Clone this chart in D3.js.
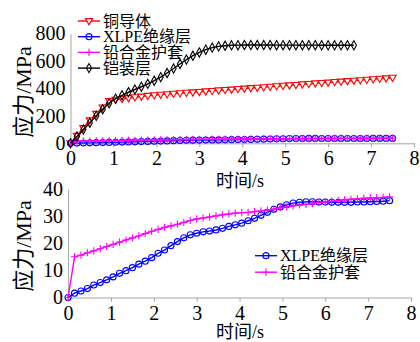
<!DOCTYPE html>
<html>
<head>
<meta charset="utf-8">
<script src="https://cdn.jsdelivr.net/npm/d3@7"></script>
<style>
  body { margin: 0; background: #fff; }
  svg text { font-family: "Liberation Serif", "Times New Roman", "Noto Sans CJK SC", serif; fill: #000; }
</style>
</head>
<body>
<div id="chart"></div>
<script>
// time samples (s)
const times = [0, 0.15, 0.3, 0.45, 0.6, 0.75, 0.9, 1.05, 1.2, 1.35, 1.5, 1.65, 1.8, 1.95, 2.1, 2.25, 2.4, 2.55, 2.7, 2.85,
  3.0, 3.15, 3.3, 3.45, 3.6, 3.75, 3.9, 4.05, 4.2, 4.35, 4.5, 4.65, 4.8, 4.95, 5.1, 5.25, 5.4, 5.55, 5.7, 5.85,
  6.0, 6.15, 6.3, 6.45, 6.6, 6.75, 6.9, 7.05, 7.2, 7.35, 7.5];

// stress (MPa)
const copperStress = [0, 55, 112, 168, 215, 262, 308, 318, 324, 330, 336, 341, 346, 351, 355, 358, 362, 365, 369, 372,
  375, 379, 382, 386, 389, 392, 396, 399, 403, 406, 409, 413, 416, 420, 423, 426, 430, 433, 437, 440,
  443, 447, 450, 454, 457, 460, 464, 467, 471, 474, 478];
const xlpeStress = [0, 1.6, 2.4, 3.3, 4.6, 5.5, 6.5, 7.6, 8.9, 9.9, 11.0, 12.3, 13.4, 14.7, 16.3, 17.5, 19.1, 20.6, 22.0, 23.1,
  23.7, 24.2, 24.5, 24.9, 25.5, 26.2, 26.8, 27.4, 28.3, 29.2, 30.3, 31.4, 32.5, 33.4, 34.2, 34.8, 35.1, 35.3, 35.3, 35.2,
  35.2, 35.1, 35.1, 35.1, 35.1, 35.2, 35.2, 35.3, 35.4, 35.5, 35.7];
const leadStress = [0, 15.0, 15.6, 16.5, 17.2, 18.0, 18.8, 19.6, 20.4, 21.2, 22.0, 22.7, 23.6, 24.4, 25.1, 25.9, 26.4, 27.0, 27.7, 28.4,
  29.0, 29.3, 29.7, 30.1, 30.5, 30.8, 31.1, 31.3, 31.4, 31.7, 31.9, 32.2, 32.6, 33.1, 33.4, 33.8, 34.1, 34.3, 34.6, 35.0,
  35.2, 35.5, 35.7, 36.0, 36.2, 36.4, 36.6, 36.7, 36.8, 36.9, 37.1];
const armourStress = [0, 50, 100, 150, 200, 248, 292, 325, 350, 372, 392, 412, 433, 456, 482, 512, 545, 578, 610, 638,
  662, 682, 697, 706, 711, 714, 715, 716, 716, 716, 716, 716, 715, 715, 715, 715, 715, 715, 715, 714,
  714, 714, 714, 714, 714];

const xTicks = [0, 1, 2, 3, 4, 5, 6, 7, 8];
const topYTicks = [0, 200, 400, 600, 800];
const bottomYTicks = [0, 10, 20, 30, 40];
const xTitle = "时间/s";
const yTitle = "应力/MPa";

const series = {
  copper: { name: "铜导体", values: copperStress, color: "#ff0000", marker: "triDown" },
  xlpe: { name: "XLPE绝缘层", values: xlpeStress, color: "#0000ff", marker: "circle" },
  lead: { name: "铅合金护套", values: leadStress, color: "#ff00ff", marker: "plus" },
  armour: { name: "铠装层", values: armourStress, color: "#000000", marker: "diamond" }
};
const topOrder = ["copper", "xlpe", "lead", "armour"];
const bottomOrder = ["xlpe", "lead"];

const width = 420, height = 342;
const axisGrey = "#a6a6a6";

const svg = d3.select("#chart").append("svg")
  .attr("width", width)
  .attr("height", height);

function markerPath(type) {
  switch (type) {
    case "triDown": return "M-3.6,-2.4L3.6,-2.4L0,3.8Z";
    case "circle": return d3.symbol(d3.symbolCircle, 29)();
    case "plus": return "M-3.6,0H3.6M0,-3.6V3.6";
    case "diamond": return "M0,-4.6L2.6,0L0,4.6L-2.6,0Z";
  }
}

function drawPanel(opts) {
  const x = d3.scaleLinear().domain([0, 8]).range(opts.xRange);
  const y = d3.scaleLinear().domain(opts.yDomain).range(opts.yRange);
  const g = svg.append("g");

  const xAxis = g.append("g")
    .attr("transform", `translate(0,${opts.yRange[0]})`)
    .call(d3.axisBottom(x).tickValues(xTicks).tickSize(4).tickSizeOuter(4).tickPadding(4));
  const yAxis = g.append("g")
    .attr("transform", `translate(${opts.xRange[0]},0)`)
    .call(d3.axisLeft(y).tickValues(opts.yTicks).tickSize(0).tickPadding(5));

  [xAxis, yAxis].forEach(a => {
    a.selectAll("path, line").attr("stroke", axisGrey);
    a.selectAll("text").attr("font-size", 20).attr("fill", "#000")
      .style("font-family", '"Liberation Serif", "Times New Roman", serif');
  });

  // axis titles
  g.append("text")
    .attr("x", opts.xTitlePos[0]).attr("y", opts.xTitlePos[1])
    .attr("text-anchor", "middle").attr("dominant-baseline", "central")
    .attr("font-size", 18).text(xTitle);
  g.append("text")
    .attr("transform", `translate(${opts.yTitlePos[0]},${opts.yTitlePos[1]}) rotate(-90)`)
    .attr("text-anchor", "middle").attr("dominant-baseline", "central")
    .attr("font-size", 22).text(yTitle);

  const line = d3.line().x((d, i) => x(times[i])).y(d => y(d));

  opts.order.forEach(key => {
    const s = series[key];
    const sg = g.append("g");
    sg.append("path")
      .datum(s.values)
      .attr("d", line)
      .attr("fill", "none")
      .attr("stroke", s.color)
      .attr("stroke-width", 1.4);
    sg.selectAll("path.mk")
      .data(s.values)
      .join("path")
      .attr("class", "mk")
      .attr("d", markerPath(s.marker))
      .attr("transform", (d, i) => `translate(${x(times[i])},${y(d)})`)
      .attr("fill", s.marker === "triDown" ? "#fff" : "none")
      .attr("stroke", s.color)
      .attr("stroke-width", 1.1);
  });

  // legend
  const lg = g.append("g");
  opts.order.forEach((key, i) => {
    const s = series[key];
    const ly = opts.legend.y + i * opts.legend.step;
    const x0 = opts.legend.x;
    lg.append("line")
      .attr("x1", x0).attr("x2", x0 + 22)
      .attr("y1", ly).attr("y2", ly)
      .attr("stroke", s.color).attr("stroke-width", 1.4);
    lg.append("path")
      .attr("d", markerPath(s.marker))
      .attr("transform", `translate(${x0 + 11},${ly})`)
      .attr("fill", s.marker === "triDown" ? "#fff" : "none")
      .attr("stroke", s.color).attr("stroke-width", 1.1);
    lg.append("text")
      .attr("x", x0 + 25).attr("y", ly)
      .attr("dominant-baseline", "central")
      .attr("font-size", 16)
      .text(s.name);
  });
}

drawPanel({
  xRange: [70.5, 414], yRange: [143.3, 33.5], yDomain: [0, 800], yTicks: topYTicks,
  order: topOrder,
  xTitlePos: [240, 181], yTitlePos: [23, 92],
  legend: { x: 78, y: 21, step: 15.7 }
});

drawPanel({
  xRange: [68.1, 411], yRange: [297.5, 189], yDomain: [0, 40], yTicks: bottomYTicks,
  order: bottomOrder,
  xTitlePos: [240, 332], yTitlePos: [23, 246],
  legend: { x: 255, y: 255.7, step: 16.5 }
});
</script>
</body>
</html>
